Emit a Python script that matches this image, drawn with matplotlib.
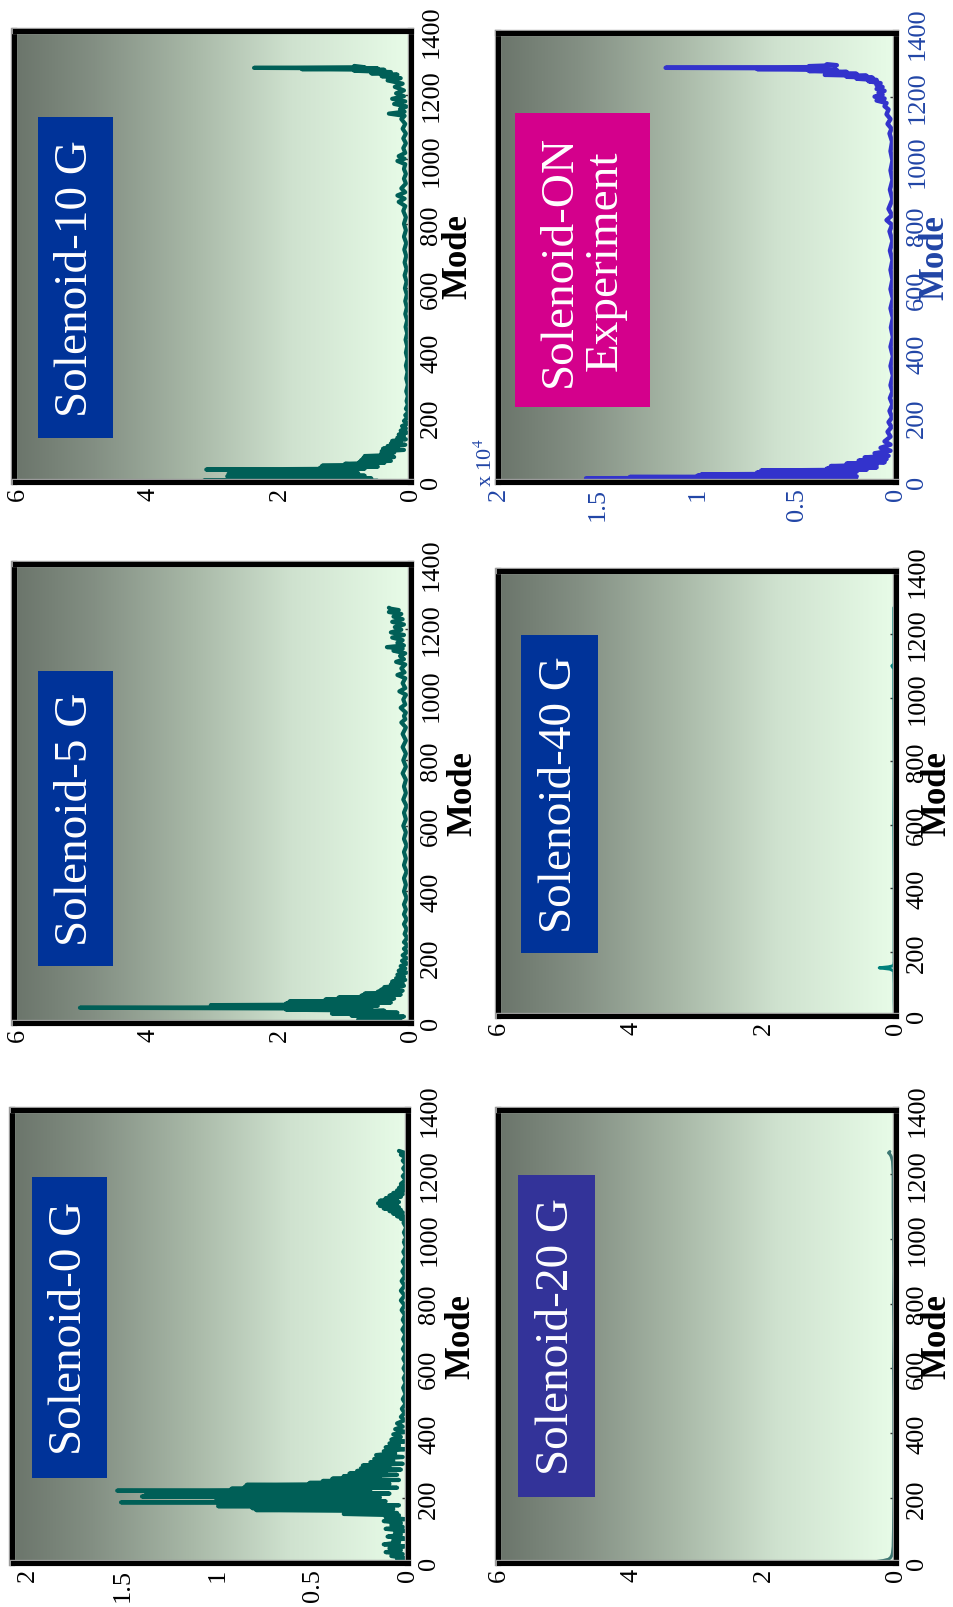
import numpy as np
import matplotlib
matplotlib.use("Agg")
import matplotlib.pyplot as plt
import matplotlib.patheffects as pe
from matplotlib.colors import LinearSegmentedColormap
from matplotlib.patches import Rectangle

plt.rcParams['font.family'] = ['Liberation Serif', 'DejaVu Serif']
plt.rcParams['mathtext.fontset'] = 'stix'

# Espectro de amplitud por modo, simulaciones con distintos campos del solenoide
modo_0g = [0, 8, 14, 20, 26, 32, 38, 44, 50, 56, 62, 68, 74, 80, 86, 92, 98, 104, 110, 116, 122, 128,
           134, 140, 146, 150, 153, 156, 159, 162, 165, 168, 171, 174, 177, 180, 183, 186, 189, 192,
           195, 198, 201, 204, 207, 210, 213, 216, 219, 222, 225, 228, 231, 234, 237, 240, 243, 246,
           249, 252, 255, 259, 263, 267, 271, 275, 279, 283, 287, 291, 295, 300, 305, 310, 315, 320,
           326, 332, 338, 344, 350, 356, 362, 368, 374, 380, 388, 396, 404, 412, 420, 430, 440, 450,
           462, 475, 490, 505, 520, 540, 555, 570, 585, 600, 615, 630, 645, 660, 675, 690, 705, 720,
           735, 750, 765, 780, 795, 810, 825, 840, 855, 870, 885, 900, 915, 930, 945, 960, 975, 990,
           1005, 1020, 1035, 1050, 1058, 1062, 1066, 1070, 1074, 1078, 1082, 1086, 1090, 1094, 1098,
           1102, 1106, 1110, 1114, 1118, 1122, 1126, 1130, 1134, 1138, 1142, 1146, 1150, 1154, 1158,
           1164, 1170, 1182, 1194, 1206, 1218, 1230, 1242, 1252, 1260, 1266, 1272]
amp_0g = [0.02, 0.06, 0.02, 0.09, 0.03, 0.12, 0.04, 0.10, 0.02, 0.13, 0.05, 0.08, 0.02, 0.11, 0.04,
          0.07, 0.02, 0.12, 0.03, 0.09, 0.04, 0.13, 0.02, 0.12, 0.05, 0.34, 0.06, 0.32, 0.12, 0.80,
          0.08, 0.82, 0.20, 1.00, 0.05, 0.98, 0.30, 1.51, 0.12, 1.01, 0.40, 0.99, 0.15, 1.40, 0.30,
          1.38, 0.10, 0.97, 0.45, 1.53, 0.20, 0.93, 0.06, 0.86, 0.25, 0.85, 0.10, 0.52, 0.20, 0.45,
          0.05, 0.40, 0.15, 0.34, 0.06, 0.31, 0.12, 0.27, 0.04, 0.25, 0.10, 0.24, 0.03, 0.20, 0.08,
          0.18, 0.03, 0.17, 0.07, 0.13, 0.02, 0.12, 0.05, 0.10, 0.02, 0.09, 0.04, 0.08, 0.02, 0.07,
          0.03, 0.06, 0.02, 0.04,
          0.02, 0.035, 0.015, 0.03, 0.015, 0.028, 0.015, 0.025, 0.012, 0.026, 0.014, 0.027, 0.014,
          0.03, 0.015, 0.028, 0.016, 0.032, 0.016, 0.03, 0.018, 0.036, 0.02, 0.04, 0.02, 0.04, 0.02,
          0.036, 0.018, 0.032, 0.016, 0.03, 0.014, 0.027, 0.013, 0.024, 0.012, 0.024, 0.012, 0.026,
          0.015, 0.04, 0.02, 0.06, 0.03, 0.08, 0.03, 0.10, 0.04, 0.13, 0.05, 0.15, 0.06, 0.16, 0.05,
          0.15, 0.06, 0.12, 0.04, 0.10, 0.03, 0.08, 0.03, 0.06, 0.02, 0.05, 0.02, 0.04,
          0.015, 0.03, 0.012, 0.028, 0.012, 0.03, 0.015, 0.04, 0.02, 0.05]

modo_5g = [0, 3, 6, 9, 12, 15, 18, 21, 24, 27, 30, 33, 36, 39, 42, 45, 47, 49, 51, 53, 55, 58, 61, 64,
           67, 70, 73, 76, 79, 82, 85, 88, 91, 94, 97, 100, 104, 108, 112, 116, 120, 125, 130, 135,
           140, 146, 152, 158, 165, 172, 180, 188, 196, 205, 215, 225, 235, 245, 258, 270, 285, 300,
           315, 330, 345, 360, 380, 400, 420, 440, 460, 480, 500, 520, 540, 560, 580, 600, 620, 640,
           660, 680, 700, 720, 740, 760, 780, 800, 820, 840, 860, 880, 900, 915, 925, 935, 945, 960,
           970, 985, 1000, 1010, 1020, 1035, 1050, 1060, 1068, 1080, 1092, 1100, 1108, 1118, 1126,
           1134, 1140, 1145, 1150, 1158, 1166, 1174, 1182, 1190, 1198, 1206, 1214, 1222, 1230, 1238,
           1246, 1252, 1258, 1262, 1265]
amp_5g = [0.10, 0.60, 0.15, 0.80, 0.20, 0.45, 0.10, 0.90, 0.30, 1.20, 0.20, 0.75, 0.40, 1.90, 0.60,
          5.05, 0.90, 3.00, 0.50, 3.05, 1.00, 1.90, 0.30, 1.85, 0.70, 1.30, 0.25, 1.10, 0.50, 0.75,
          0.15, 0.70, 0.30, 0.50, 0.12, 0.45, 0.20, 0.40, 0.10, 0.30, 0.12, 0.28, 0.08, 0.22, 0.10,
          0.20, 0.06, 0.18, 0.08, 0.15, 0.05, 0.13, 0.06, 0.12, 0.05, 0.10, 0.04, 0.10, 0.05, 0.09,
          0.06, 0.10, 0.06, 0.10, 0.07, 0.10, 0.06, 0.10, 0.07, 0.10, 0.06, 0.10, 0.07, 0.10, 0.06,
          0.10, 0.07, 0.11, 0.07, 0.10, 0.06, 0.11, 0.07, 0.10, 0.07, 0.12, 0.07, 0.11, 0.07, 0.12,
          0.07, 0.12, 0.07, 0.14, 0.08, 0.10, 0.07, 0.15, 0.08, 0.11, 0.07, 0.17, 0.08, 0.12, 0.08,
          0.20, 0.09, 0.14, 0.08, 0.22, 0.10, 0.16, 0.08, 0.26, 0.12, 0.36, 0.10, 0.20, 0.12, 0.28,
          0.10, 0.30, 0.14, 0.24, 0.10, 0.28, 0.12, 0.26, 0.14, 0.33, 0.18, 0.30, 0.33]

modo_10g = [0, 2, 4, 6, 8, 10, 12, 14, 16, 18, 20, 22, 24, 26, 28, 30, 32, 34, 37, 40, 43, 46, 49, 52,
            55, 58, 61, 64, 67, 70, 73, 76, 79, 82, 86, 90, 94, 98, 102, 106, 110, 114, 118, 122,
            126, 131, 136, 141, 146, 152, 158, 165, 172, 180, 188, 197, 206, 216, 226, 238, 250, 265,
            280, 300, 320, 340, 360, 380, 400, 420, 440, 460, 480, 500, 520, 540, 560, 580, 600, 620,
            640, 660, 680, 700, 720, 740, 760, 780, 800, 820, 840, 855, 868, 878, 888, 898, 910, 925,
            940, 955, 970, 985, 995, 1002, 1010, 1020, 1035, 1050, 1065, 1080, 1095, 1110, 1125,
            1135, 1142, 1148, 1156, 1164, 1172, 1180, 1188, 1196, 1205, 1214, 1225, 1235, 1245, 1252,
            1258, 1263, 1267, 1271, 1275, 1278, 1280, 1282, 1284, 1286, 1290]
amp_10g = [1.15, 0.50, 3.15, 0.90, 1.40, 0.60, 2.75, 1.00, 2.80, 0.70, 2.70, 1.20, 2.78, 0.80, 2.70,
           1.30, 2.75, 0.90, 3.12, 0.70, 1.38, 0.50, 1.35, 0.80, 1.00, 0.40, 0.78, 0.30, 0.75, 0.50,
           0.72, 0.25, 0.70, 0.30, 0.45, 0.25, 0.44, 0.10, 0.42, 0.20, 0.35, 0.08, 0.30, 0.15, 0.28,
           0.07, 0.20, 0.10, 0.18, 0.05, 0.15, 0.07, 0.13, 0.04, 0.10, 0.05, 0.08, 0.03, 0.07, 0.04,
           0.06, 0.04, 0.065, 0.04, 0.065, 0.045, 0.07, 0.045, 0.07, 0.05, 0.075, 0.05, 0.075, 0.05,
           0.08, 0.055, 0.08, 0.055, 0.085, 0.06, 0.09, 0.06, 0.09, 0.065, 0.095, 0.065, 0.10, 0.07,
           0.10, 0.07, 0.11, 0.08, 0.18, 0.09, 0.20, 0.08, 0.14, 0.07, 0.10, 0.07, 0.10, 0.08, 0.20,
           0.09, 0.18, 0.08, 0.11, 0.07, 0.11, 0.07, 0.12, 0.08, 0.14, 0.09, 0.33, 0.09, 0.16, 0.06,
           0.25, 0.08, 0.28, 0.10, 0.22, 0.10, 0.24, 0.12, 0.35, 0.15, 0.44, 0.20, 0.60, 0.30, 0.86,
           0.40, 1.66, 0.50, 2.39, 0.70, 0.86]

modo_20g = [0, 3, 6, 10, 15, 22, 30, 50, 100, 200, 300, 400, 500, 600, 700, 800, 900, 1000, 1100,
            1200, 1240, 1255, 1262, 1266, 1270]
amp_20g = [0.22, 0.30, 0.20, 0.12, 0.09, 0.07, 0.06, 0.05, 0.045, 0.04, 0.04, 0.04, 0.04, 0.045,
           0.04, 0.045, 0.04, 0.045, 0.05, 0.05, 0.06, 0.08, 0.10, 0.12, 0.10]

modo_40g = [0, 50, 100, 140, 146, 150, 153, 156, 160, 170, 250, 400, 600, 800, 1000, 1090, 1100,
            1106, 1112, 1200, 1283]
amp_40g = [0.03, 0.035, 0.035, 0.04, 0.10, 0.26, 0.12, 0.06, 0.04, 0.035, 0.035, 0.035, 0.04,
           0.035, 0.04, 0.04, 0.07, 0.04, 0.04, 0.04, 0.04]

# Medida con el solenoide encendido, en unidades de 10^4
modo_exp = [0, 2, 4, 6, 8, 10, 12, 14, 16, 18, 20, 22, 25, 28, 31, 34, 37, 40, 44, 48, 52, 56, 60,
            65, 70, 75, 80, 88, 96, 105, 115, 125, 140, 155, 170, 185, 200, 220, 240, 260, 280, 300,
            330, 360, 390, 420, 450, 480, 510, 540, 570, 600, 630, 660, 690, 720, 750, 780, 800, 815,
            830, 850, 880, 910, 940, 970, 1000, 1030, 1060, 1085, 1100, 1115, 1130, 1145, 1160, 1170,
            1180, 1188, 1194, 1200, 1206, 1212, 1218, 1224, 1230, 1236, 1242, 1248, 1252, 1256, 1259,
            1262, 1265, 1268, 1271, 1274, 1277, 1280, 1283, 1286, 1288, 1290, 1292, 1295, 1298, 1301]
amp_exp = [0.36, 1.04, 0.20, 1.35, 0.30, 1.56, 0.50, 1.34, 0.20, 1.00, 0.40, 0.98, 0.30, 0.70, 0.20,
           0.68, 0.15, 0.35, 0.10, 0.33, 0.10, 0.25, 0.06, 0.19, 0.05, 0.16, 0.04, 0.11, 0.03, 0.08,
           0.03, 0.06, 0.03, 0.045, 0.025, 0.04, 0.022, 0.035, 0.02, 0.033, 0.02, 0.03, 0.018, 0.03,
           0.018, 0.03, 0.018, 0.028, 0.018, 0.03, 0.018, 0.03, 0.02, 0.03, 0.02, 0.033, 0.02, 0.035,
           0.022, 0.05, 0.022, 0.04, 0.02, 0.033, 0.02, 0.03, 0.02, 0.03, 0.022, 0.035, 0.025, 0.045,
           0.03, 0.05, 0.04, 0.06, 0.05, 0.10, 0.06, 0.11, 0.07, 0.09, 0.06, 0.10, 0.07, 0.10, 0.08,
           0.14, 0.10, 0.20, 0.12, 0.25, 0.15, 0.36, 0.20, 0.33, 0.25, 0.44, 0.30, 0.70, 0.35, 1.16,
           0.40, 0.44, 0.30, 0.35]

modos_ticks = [0, 200, 400, 600, 800, 1000, 1200, 1400]

W, H = 954, 1608
fig = plt.figure(figsize=(W / 100, H / 100), dpi=100)

fondo = LinearSegmentedColormap.from_list(
    'fondo', [(0, '#6b756b'), (0.2, '#838f83'), (0.45, '#a8b8a7'), (0.7, '#cfe2cf'), (1, '#e8fce8')])
degradado = np.linspace(0, 1, 256).reshape(1, -1)
azul_ejes = '#2145a6'


def a_figura(x0, y0, x1, y1):
    return [x0 / W, 1 - y1 / H, (x1 - x0) / W, (y1 - y0) / H]


def panel(marco, modos, valores, tope, marcas, textos, color, ancho, caja, rotulo, color_caja,
          x_mode, color_ejes='black'):
    ax = fig.add_axes(a_figura(*marco))
    ax.imshow(degradado, extent=[tope, 0, 0, 1400], aspect='auto', cmap=fondo,
              interpolation='bilinear', zorder=0)
    ax.plot(valores, modos, color=color, lw=ancho, solid_joinstyle='round',
            solid_capstyle='round', zorder=2)
    ax.set_xlim(tope, 0)
    ax.set_ylim(0, 1400)
    ax.set_xticks(marcas)
    ax.set_xticklabels(textos, rotation=90, color=color_ejes, fontsize=19)
    ax.tick_params(axis='x', length=0, pad=4)
    ax.yaxis.tick_right()
    ax.set_yticks(modos_ticks)
    ax.tick_params(axis='y', direction='in', length=4, width=1, color='#333333', labelsize=19,
                   labelrotation=90, labelcolor=color_ejes, pad=7)
    for t in ax.get_yticklabels():
        t.set_va('center')
    for s in ax.spines.values():
        s.set_linewidth(3.6)
        s.set_color('black')
        s.set_path_effects([pe.Stroke(linewidth=4.6, foreground='#9a9a9a'), pe.Normal()])
    ax.set_ylabel('Mode', fontsize=25, fontweight='bold', color=color_ejes, rotation=90)
    ax.yaxis.set_label_position('right')
    ax.yaxis.label.set_rotation_mode('default')
    ax.yaxis.label.set_va('center')
    ax.yaxis.set_label_coords((x_mode - marco[0]) / (marco[2] - marco[0]), 0.5)

    x0, y0, x1, y1 = caja
    fig.add_artist(Rectangle((x0 / W, 1 - y1 / H), (x1 - x0) / W, (y1 - y0) / H,
                             transform=fig.transFigure, facecolor=color_caja,
                             edgecolor='none', zorder=3))
    fig.text((x0 + x1) / 2 / W, 1 - (y0 + y1) / 2 / H, rotulo, rotation=90, ha='center',
             va='center', color='white', fontsize=34, zorder=4, linespacing=1.1)
    return ax


teal = '#005f57'
t6 = [0, 2, 4, 6]
t2 = [0, 0.5, 1, 1.5, 2]
e6 = ['0', '2', '4', '6']
e2 = ['0', '0.5', '1', '1.5', '2']

panel((14.5, 31.5, 410.5, 482.5), modo_10g, amp_10g, 6.05, t6, e6, teal, 3.0,
      (38, 118, 113, 439), 'Solenoid-10 G', '#003399', 458)
panel((14.5, 564.5, 410.5, 1023.5), modo_5g, amp_5g, 6.05, t6, e6, teal, 3.0,
      (38, 672, 113, 967), 'Solenoid-5 G', '#003399', 463)
panel((12.5, 1110.5, 408.5, 1563.5), modo_0g, amp_0g, 2.08, t2, e2, teal, 3.0,
      (32, 1178, 107, 1479), 'Solenoid-0 G', '#003399', 461)

panel((498.5, 33.5, 896.5, 482.5), modo_exp, amp_exp, 2.0, t2, e2, '#3333cc', 3.2,
      (515, 114, 650, 408), 'Solenoid-ON\nExperiment', '#d4008c', 935, color_ejes=azul_ejes)
panel((498.5, 571.5, 896.5, 1016.5), modo_40g, amp_40g, 6.0, t6, e6, '#00807c', 2.2,
      (521, 636, 598, 954), 'Solenoid-40 G', '#003399', 937)
panel((498.5, 1110.5, 896.5, 1563.5), modo_20g, amp_20g, 6.0, t6, e6, '#3c7773', 2.2,
      (518, 1176, 595, 1498), 'Solenoid-20 G', '#333399', 937)

fig.text(486 / W, 1 - 487 / H, r'x 10$^{4}$', rotation=90, ha='center', va='bottom',
         color=azul_ejes, fontsize=16)

fig.savefig('out.png', dpi=100)
